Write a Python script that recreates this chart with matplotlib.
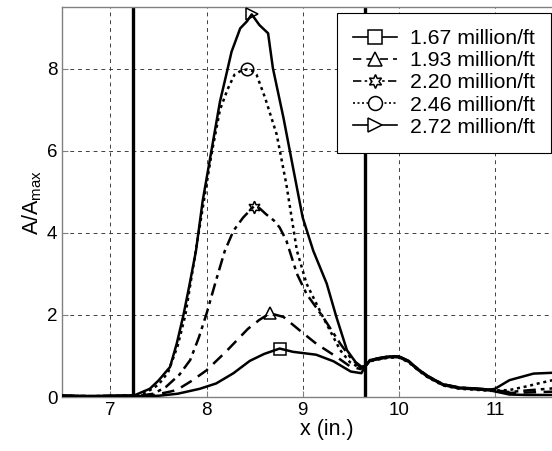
import numpy as np
import matplotlib
matplotlib.use("Agg")
import matplotlib.pyplot as plt
from matplotlib.lines import Line2D

plt.rcParams['font.family'] = ['Liberation Sans', 'DejaVu Sans']
plt.rcParams['mathtext.fontset'] = 'custom'
plt.rcParams['mathtext.rm'] = 'Liberation Sans'
plt.rcParams['mathtext.it'] = 'Liberation Sans'

# series labels
labels = ['1.67 million/ft', '1.93 million/ft', '2.20 million/ft',
          '2.46 million/ft', '2.72 million/ft']

# shared tail after the second boundary
tail_x = [9.70, 9.80, 9.90, 10.0, 10.1, 10.2, 10.3, 10.46, 10.63, 10.78, 10.95]
tail_y = [0.88, 0.93, 0.97, 0.97, 0.86, 0.66, 0.49, 0.29, 0.21, 0.19, 0.16]

x1 = [6.5, 6.8, 7.1, 7.3, 7.5, 7.7, 7.93, 8.1, 8.28, 8.45, 8.6, 8.76, 8.9,
      9.14, 9.32, 9.5, 9.61, 9.65]
y1 = [0.03, 0.02, 0.03, 0.02, 0.03, 0.08, 0.2, 0.33, 0.58, 0.88, 1.05, 1.18,
      1.1, 1.03, 0.87, 0.62, 0.58, 0.75]
end1_x = [11.15, 11.33, 11.6, 12.0]
end1_y = [0.06, 0.05, 0.05, 0.05]

x2 = [6.5, 6.8, 7.1, 7.3, 7.45, 7.6, 7.69, 7.85, 8.0, 8.2, 8.43, 8.55, 8.66,
      8.80, 8.97, 9.14, 9.35, 9.49, 9.6, 9.66]
y2 = [0.03, 0.02, 0.03, 0.03, 0.05, 0.12, 0.17, 0.4, 0.65, 1.1, 1.66, 1.88, 2.04,
      1.95, 1.62, 1.30, 0.98, 0.75, 0.68, 0.78]
end2_x = [11.15, 11.33, 11.6, 12.0]
end2_y = [0.10, 0.11, 0.13, 0.16]

x3 = [6.5, 6.8, 7.1, 7.3, 7.45, 7.58, 7.72, 7.83, 7.92, 8.0, 8.1, 8.19,
      8.28, 8.38, 8.49, 8.55, 8.62, 8.70, 8.76, 8.83, 8.94, 9.04, 9.21, 9.39,
      9.5, 9.6, 9.66]
y3 = [0.03, 0.02, 0.03, 0.03, 0.08, 0.25, 0.55, 0.9, 1.45, 2.03, 2.85, 3.56,
      4.05, 4.37, 4.64, 4.6, 4.45, 4.3, 4.13, 3.81, 3.0, 2.51, 1.95, 1.30,
      0.95, 0.72, 0.78]
end3_x = [11.15, 11.33, 11.6, 12.0]
end3_y = [0.12, 0.16, 0.21, 0.26]

x4 = [6.5, 6.8, 7.1, 7.3, 7.4, 7.5, 7.6, 7.7, 7.78, 7.87, 7.96, 8.05, 8.14,
      8.22, 8.29, 8.36, 8.42, 8.47, 8.52, 8.61, 8.73, 8.83, 8.94, 9.04, 9.21,
      9.39, 9.49, 9.6, 9.66]
y4 = [0.03, 0.02, 0.03, 0.04, 0.15, 0.3, 0.6, 1.25, 2.0, 3.3, 4.6, 5.9, 7.0,
      7.5, 7.85, 7.95, 7.98, 7.95, 7.85, 7.28, 6.39, 5.18, 3.56, 2.76, 1.95,
      1.14, 0.85, 0.7, 0.78]
end4_x = [11.15, 11.33, 11.45, 11.6, 12.0]
end4_y = [0.17, 0.26, 0.33, 0.41, 0.48]

x5 = [6.5, 6.8, 7.1, 7.25, 7.41, 7.5, 7.62, 7.69, 7.76, 7.82, 7.89, 7.96,
      8.05, 8.14, 8.20, 8.26, 8.35, 8.42, 8.47, 8.55, 8.64, 8.69, 8.80, 8.90,
      9.00, 9.11, 9.25, 9.35, 9.46, 9.55, 9.62, 9.66]
y5 = [0.03, 0.02, 0.03, 0.04, 0.2, 0.4, 0.73, 1.3, 2.0, 2.7, 3.56, 4.78,
      5.99, 7.2, 7.8, 8.41, 8.98, 9.15, 9.32, 9.06, 8.86, 8.01, 6.80, 5.58,
      4.37, 3.56, 2.76, 1.95, 1.14, 0.85, 0.72, 0.78]
end5_x = [11.0, 11.15, 11.4, 11.6, 12.0]
end5_y = [0.2, 0.41, 0.57, 0.59, 0.62]

# peak markers
peak_x = [8.76, 8.66, 8.49, 8.42, 8.47]
peak_y = [1.18, 2.04, 4.64, 7.98, 9.32]

# boundaries
bound_x = [7.24, 9.65]

xs = [x1, x2, x3, x4, x5]
ys = [y1, y2, y3, y4, y5]
ends_x = [end1_x, end2_x, end3_x, end4_x, end5_x]
ends_y = [end1_y, end2_y, end3_y, end4_y, end5_y]
styles = ['-', (0, (5, 3)), (0, (5, 2, 1.5, 2)), (0, (1.2, 1.5)), '-']
markers = ['s', '^', (6, 1, 0), 'o', '>']
tail_offsets = [0.0, 0.01, 0.02, -0.01, 0.02]

fig = plt.figure(figsize=(5.52, 4.51), dpi=100)
ax = fig.add_axes([62.3 / 552, 54 / 451, (591.2 - 62.3) / 552, 390 / 451])

handles = []
for i in range(5):
    xx = xs[i] + tail_x + ends_x[i]
    yy = ys[i] + [t + tail_offsets[i] for t in tail_y] + ends_y[i]
    ax.plot(xx, yy, color='black', lw=1.8, linestyle=styles[i], zorder=3)
    ax.plot(peak_x[i], peak_y[i], linestyle='none', marker=markers[i],
            ms=9, mfc='none', mec='black', mew=1.1, zorder=4)
    handles.append(Line2D([], [], color='black', lw=1.2, linestyle=styles[i],
                          marker=markers[i], ms=10, mfc='white', mec='black',
                          mew=1.1))

for b in bound_x:
    ax.axvline(b, color='black', lw=2.4, zorder=2)

ax.set_xlim(6.5, 12)
ax.set_ylim(0, 9.5)
ax.set_xticks([7, 8, 9, 10, 11])
ax.set_yticks([0, 2, 4, 6, 8])
ax.grid(True, color='0.25', lw=0.7, linestyle=(0, (4, 4)))
ax.set_axisbelow(True)
ax.tick_params(direction='in', labelsize=13.5, length=4, color='0.5')
for s in ax.spines.values():
    s.set_color('0.5')
    s.set_linewidth(1.0)

ax.set_xlabel('x (in.)', fontsize=15.5, labelpad=0)
ax.set_ylabel(r'A/A$_{\mathrm{max}}$', fontsize=15.5, labelpad=2)

leg = ax.legend(handles, labels, loc='upper right',
                bbox_to_anchor=(0.998, 0.971), bbox_transform=fig.transFigure,
                borderaxespad=0, fontsize=15.3, handlelength=2.1,
                handletextpad=0.6, labelspacing=0.15, borderpad=0.75,
                fancybox=False, framealpha=1, edgecolor='black')
leg.get_frame().set_linewidth(0.8)

fig.savefig('out.png', dpi=100)
